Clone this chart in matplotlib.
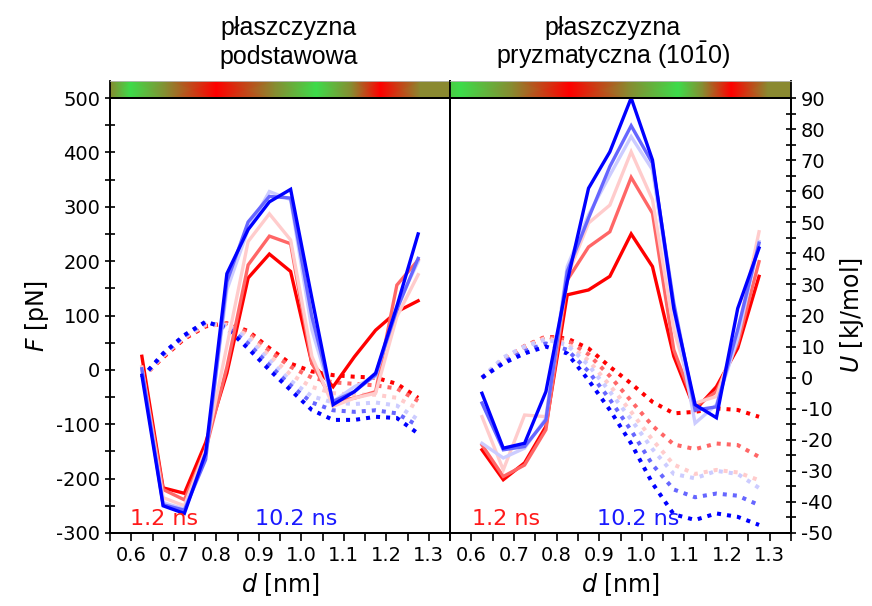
import numpy as np
import matplotlib
matplotlib.use('Agg')
import matplotlib.pyplot as plt
from matplotlib.colors import LinearSegmentedColormap
from matplotlib.ticker import MultipleLocator

plt.rcParams['font.family'] = ['DejaVu Sans']
plt.rcParams['axes.unicode_minus'] = False
plt.rcParams['mathtext.fontset'] = 'custom'
plt.rcParams['mathtext.rm'] = 'Liberation Sans'

# pulling distance [nm]
d_nm = [0.625, 0.675, 0.725, 0.775, 0.825, 0.875, 0.925, 0.975,
        1.025, 1.075, 1.125, 1.175, 1.225, 1.275]

# series colours, 1.2 ns (red) ... 10.2 ns (blue)
colors = ['#ff0000', '#ff6666', '#ffcccc', '#ccccff', '#6666ff', '#0000ff']

# force F [pN], basal plane
F_basal = [
    [25, -217, -227, -134, -6, 169, 213, 181, 12, -31, 24, 73, 107, 127],
    [5, -220, -239, -147, 5, 193, 246, 232, 12, -58, -52, -40, 156, 202],
    [5, -235, -250, -147, 44, 236, 287, 239, 25, -67, -52, -43, 98, 175],
    [0, -244, -256, -159, 147, 258, 328, 313, 74, -58, -31, -12, 117, 199],
    [2, -248, -258, -165, 162, 272, 319, 316, 98, -58, -40, -9, 111, 205],
    [-10, -250, -264, -153, 177, 258, 309, 332, 132, -64, -40, -6, 117, 250],
]
# potential U [kJ/mol], basal plane
U_basal = [
    [0, 6.5, 12.5, 16.5, 17.5, 15, 9.5, 4.5, 2, 0.8, 0.3, 0, -2, -6.5],
    [0, 6.8, 12.8, 16.8, 17.3, 14.5, 8.5, 3.5, 0, -1.5, -2, -2.5, -3.5, -7.5],
    [0, 7, 13, 17, 17, 13.5, 7, 1, -3, -5, -5.5, -5.5, -6.5, -10],
    [0, 7.3, 13.3, 17.5, 16.8, 12.5, 5.5, -1, -6, -8, -8.5, -8, -9, -13.5],
    [0, 7.5, 13.5, 17.8, 16.3, 11, 4, -2.5, -8, -10.5, -11, -10.5, -11.5, -15.5],
    [0, 7.8, 13.7, 18, 15.8, 9.4, 2.5, -4, -10.4, -13.6, -13.6, -12.6, -13, -18],
]
# force F [pN], prismatic plane
F_prism = [
    [-147, -202, -171, -104, 138, 147, 172, 250, 190, 25, -74, -31, 40, 172],
    [-138, -196, -175, -110, 165, 226, 254, 354, 288, 37, -68, -40, 49, 199],
    [-86, -184, -83, -86, 172, 270, 303, 401, 313, 74, -61, -49, 67, 254],
    [-135, -162, -144, -89, 190, 285, 358, 429, 368, 110, -98, -64, 58, 236],
    [-61, -147, -141, -92, 181, 279, 374, 449, 380, 123, -74, -68, 74, 233],
    [-43, -144, -135, -40, 162, 334, 401, 500, 386, 113, -64, -88, 113, 224],
]
# potential U [kJ/mol], prismatic plane
U_prism = [
    [0, 5.7, 10, 13.2, 12.6, 9.4, 3.5, -1.9, -7.8, -11.5, -11, -9.9, -10.4, -12.6],
    [0, 5.8, 10.2, 13.2, 12, 7.5, 0.5, -7.5, -15.5, -21.5, -23, -21.2, -21.7, -25.5],
    [0, 6, 10, 12.8, 11, 5.5, -2.5, -11, -20, -28, -31, -29.7, -30.5, -33],
    [0, 6.5, 10, 12.3, 10.5, 4, -4.5, -13.5, -23, -31, -32.4, -30, -31, -35.5],
    [0, 5, 8.5, 11, 9, 2, -7, -17, -28, -36, -38.5, -37.3, -38, -41],
    [0, 4.6, 7.8, 10, 7.8, -0.8, -10.4, -21.2, -34, -44, -45.8, -43.7, -44.8, -47.4],
]

# surface band: 0 = green, 0.5 = olive, 1 = red
band_basal_d = [0.55, 0.598, 0.685, 0.80, 0.935, 1.035, 1.12, 1.186, 1.28, 1.35]
band_basal_v = [0.5, 0, 0.5, 1, 0.5, 0, 0.5, 1, 0.5, 0.5]
band_prism_d = [0.55, 0.575, 0.698, 0.83, 0.967, 1.085, 1.145, 1.21, 1.295, 1.35]
band_prism_v = [0.1, 0, 0.5, 1, 0.5, 0, 0.5, 1, 0.5, 0.5]

title_lines = [['płaszczyzna', 'podstawowa'],
               ['płaszczyzna', 'pryzmatyczna (10$\\mathregular{\\bar{1}}$0)']]
title_xpix = [289, 613]

band_cmap = LinearSegmentedColormap.from_list(
    'band', ['#3ddc4a', '#8a8a30', '#ff0000'])

W, H = 872., 606.
def box(x0, y0, x1, y1):
    return [x0/W, 1 - y1/H, (x1 - x0)/W, (y1 - y0)/H]

fig = plt.figure(figsize=(8.72, 6.06), dpi=100)
axL = fig.add_axes(box(110, 98, 450, 533))
axR = fig.add_axes(box(450, 98, 791, 533))
bandL = fig.add_axes(box(110, 81, 450, 98))
bandR = fig.add_axes(box(450, 81, 791, 98))

panels = [(axL, bandL, F_basal, U_basal, band_basal_d, band_basal_v),
          (axR, bandR, F_prism, U_prism, band_prism_d, band_prism_v)]

for iip, (ax, band, Fser, User, bd, bv) in enumerate(panels):
    tw = ax.twinx()
    for ii in range(len(colors)):
        ax.plot(d_nm, Fser[ii], color=colors[ii], lw=2.4, solid_joinstyle='miter')
        tw.plot(d_nm, User[ii], color=colors[ii], lw=2.9, linestyle=(0, (1, 1.5)))
    ax.set_zorder(tw.get_zorder() + 1)
    ax.patch.set_visible(False)

    ax.set_xlim(0.55, 1.35)
    ax.set_ylim(-300, 500)
    tw.set_ylim(-50, 90)
    ax.xaxis.set_minor_locator(MultipleLocator(0.05))
    ax.set_xticks([0.6, 0.7, 0.8, 0.9, 1.0, 1.1, 1.2, 1.3])
    ax.set_xticklabels(['0.6', '0.7', '0.8', '0.9', '1.0', '1.1', '1.2', '1.3'])
    ax.tick_params(axis='x', which='both', direction='out', length=6, width=1.2,
                   labelsize=14, top=False)
    ax.set_xlabel('$d$ [nm]', fontsize=17)

    ax.text(0.059 if iip == 0 else 0.065, 0.018, '1.2 ns', color='#ff1a1a',
            fontsize=16, transform=ax.transAxes, va='baseline')
    ax.text(0.426 if iip == 0 else 0.431, 0.018, '10.2 ns', color='#1a1aff',
            fontsize=16, transform=ax.transAxes, va='baseline')

    if iip == 0:
        ax.yaxis.set_major_locator(MultipleLocator(100))
        ax.yaxis.set_minor_locator(MultipleLocator(50))
        ax.tick_params(axis='y', which='both', direction='inout', length=7,
                       width=1.2, labelsize=14, right=False)
        ax.set_ylabel('$F$ [pN]', fontsize=17)
        tw.set_yticks([])
    else:
        ax.tick_params(axis='y', which='both', left=False, labelleft=False,
                       right=False)
        tw.yaxis.set_major_locator(MultipleLocator(10))
        tw.yaxis.set_minor_locator(MultipleLocator(5))
        tw.tick_params(axis='y', which='both', direction='inout', length=7,
                       width=1.2, labelsize=14)
        tw.set_ylabel('$U$ [kJ/mol]', fontsize=17)

    for sp in list(ax.spines.values()) + list(tw.spines.values()):
        sp.set_linewidth(1.3)

    # colour band above the panel
    X = np.vstack([bd, bd])
    Y = np.vstack([np.zeros(len(bd)), np.ones(len(bd))])
    C = np.vstack([bv, bv])
    band.pcolormesh(X, Y, C, shading='gouraud', cmap=band_cmap, vmin=0, vmax=1)
    band.set_xlim(0.55, 1.35)
    band.set_ylim(0, 1)
    band.set_xticks([])
    band.set_yticks([])
    band.spines['top'].set_color('#bbbbbb')
    band.spines['top'].set_linewidth(0.6)
    for s in ['left', 'right', 'bottom']:
        band.spines[s].set_linewidth(1.3)

    # two-line title, baselines at 35 px and 64 px from the top
    for jj, ypix in enumerate([35, 64]):
        fig.text(title_xpix[iip]/W, 1 - ypix/H, title_lines[iip][jj],
                 ha='center', va='baseline', fontsize=18,
                 family=['Liberation Sans'])

fig.savefig('out.png', dpi=100)
